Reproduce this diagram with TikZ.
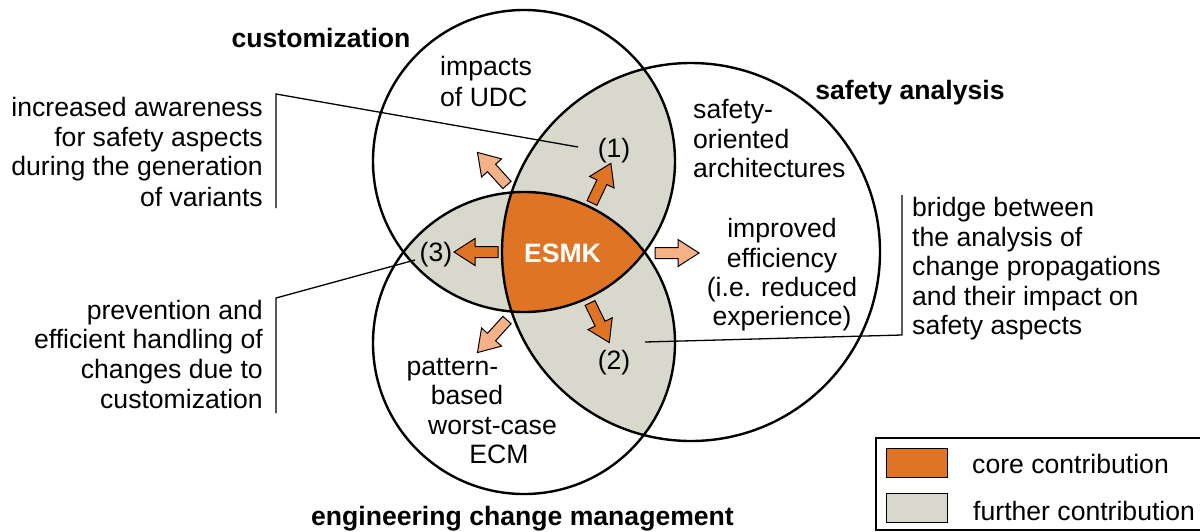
\documentclass[tikz,border=0pt]{standalone}
\usepackage{fontspec}
\setmainfont{Liberation Sans}
\definecolor{coreor}{HTML}{E07425}
\definecolor{furthergray}{HTML}{D9D8CC}
\definecolor{lightor}{HTML}{F4B286}
\newcommand\myblockarrow[3]{%
  \begin{scope}[shift={#1}, rotate=#2]
    \filldraw[fill=#3, draw=black, line width=1pt, line join=miter]
      (0,-5.5) -- (23,-5.5) -- (23,-13.5) -- (44,0) -- (23,13.5) -- (23,5.5) -- (0,5.5) -- cycle;
  \end{scope}}
\begin{document}
\begin{tikzpicture}[x=1pt,y=-1pt,
  txt/.style={font=\fontsize{26.6pt}{30pt}\selectfont, inner sep=0pt, text=black},
  ttl/.style={txt, font=\fontsize{26.6pt}{30pt}\selectfont\bfseries},
  ring/.style={line width=2.4pt},
  callout/.style={line width=1.3pt},
  swatch/.style={draw=black, line width=1pt}]
\useasboundingbox (0,0) rectangle (1200,531);
% circle centres
\coordinate (cC) at (524,161);
\coordinate (cS) at (691,252);
\coordinate (cE) at (524,343);
% region fills
\begin{scope}
  \clip (cC) circle[radius=151pt];
  \fill[furthergray] (cS) circle[radius=189pt];
  \fill[furthergray] (cE) circle[radius=151pt];
\end{scope}
\begin{scope}
  \clip (cE) circle[radius=151pt];
  \fill[furthergray] (cS) circle[radius=189pt];
\end{scope}
\begin{scope}
  \clip (cC) circle[radius=151pt];
  \clip (cE) circle[radius=151pt];
  \fill[coreor] (cS) circle[radius=189pt];
\end{scope}
% circles
\draw[ring] (cC) circle[radius=151pt];
\draw[ring] (cS) circle[radius=189pt];
\draw[ring] (cE) circle[radius=151pt];
% block arrows
\myblockarrow{(507,185)}{132.2}{lightor}
\myblockarrow{(592,203)}{64.6}{coreor}
\myblockarrow{(655,253)}{0}{lightor}
\myblockarrow{(590,303)}{-64}{coreor}
\myblockarrow{(498,252)}{180}{coreor}
\myblockarrow{(507,320)}{-132.2}{lightor}
% titles
\node[ttl, anchor=base] (tcust) at (321,47) {customization};
\node[ttl, anchor=base] (tsafe) at (910,99) {safety analysis};
\node[ttl, anchor=base] (tecm) at (522.5,525) {engineering change management};
% inner texts
\node[txt, anchor=base west] (udc1) at (440,75) {impacts};
\node[txt, anchor=base west] (udc2) at (440,106) {of UDC};
\node[txt, anchor=base west] (soa1) at (693,118) {safety-};
\node[txt, anchor=base west] (soa2) at (693,148) {oriented};
\node[txt, anchor=base west] (soa3) at (693,177) {architectures};
\node[txt, anchor=base] (eff1) at (782,237) {improved};
\node[txt, anchor=base] (eff2) at (782,267) {efficiency};
\node[txt, anchor=base] (eff3) at (782,296) {(i.e. reduced};
\node[txt, anchor=base] (eff4) at (782,325) {experience)};
\node[txt, anchor=base] (pat1) at (452.5,375) {pattern-};
\node[txt, anchor=base] (pat2) at (467,404.5) {based};
\node[txt, anchor=base] (pat3) at (492.5,434) {worst-case};
\node[txt, anchor=base] (pat4) at (499,463.5) {ECM};
\node[txt, anchor=base] (n1) at (614,157) {(1)};
\node[txt, anchor=base] (n2) at (614,369) {(2)};
\node[txt, anchor=base] (n3) at (436,261) {(3)};
\node[ttl, anchor=base, text=white] (esmk) at (562.5,262) {ESMK};
% left callouts
\node[txt, anchor=base east] (aw1) at (263,116) {increased awareness};
\node[txt, anchor=base east] (aw2) at (263,146) {for safety aspects};
\node[txt, anchor=base east] (aw3) at (263,175) {during the generation};
\node[txt, anchor=base east] (aw4) at (263,206) {of variants};
\node[txt, anchor=base east] (pv1) at (263,319) {prevention and};
\node[txt, anchor=base east] (pv2) at (263,348) {efficient handling of};
\node[txt, anchor=base east] (pv3) at (263,378) {changes due to};
\node[txt, anchor=base east] (pv4) at (263,408) {customization};
% right callout
\node[txt, anchor=base west] (br1) at (912,216) {bridge between};
\node[txt, anchor=base west] (br2) at (912,246) {the analysis of};
\node[txt, anchor=base west] (br3) at (912,275) {change propagations};
\node[txt, anchor=base west] (br4) at (912,305) {and their impact on};
\node[txt, anchor=base west] (br5) at (912,334) {safety aspects};
% callout lines
\coordinate (k1a) at (578,147);
\coordinate (k1b) at (276,94);
\coordinate (k1c) at (276,208);
\coordinate (k3a) at (415,260);
\coordinate (k3b) at (276,298);
\coordinate (k3c) at (276,413);
\coordinate (k2a) at (645,342);
\coordinate (k2b) at (902,335);
\coordinate (k2c) at (902,195);
\draw[callout] (k1a) -- (k1b) -- (k1c);
\draw[callout] (k3a) -- (k3b) -- (k3c);
\draw[callout] (k2a) -- (k2b) -- (k2c);
% legend
\coordinate (lga) at (1201,438);
\coordinate (lgb) at (876,438);
\coordinate (lgc) at (876,530);
\coordinate (lgd) at (1201,530);
\draw[line width=1.3pt] (lga) -- (lgb) -- (lgc) -- (lgd);
\filldraw[swatch, fill=coreor] (886,448) rectangle (947,477);
\filldraw[swatch, fill=furthergray] (886,493) rectangle (947,522);
\node[txt, anchor=base west] (lcore) at (972,473) {core contribution};
\node[txt, anchor=base west] (lfur) at (973,520) {further contribution};
\end{tikzpicture}
\end{document}
